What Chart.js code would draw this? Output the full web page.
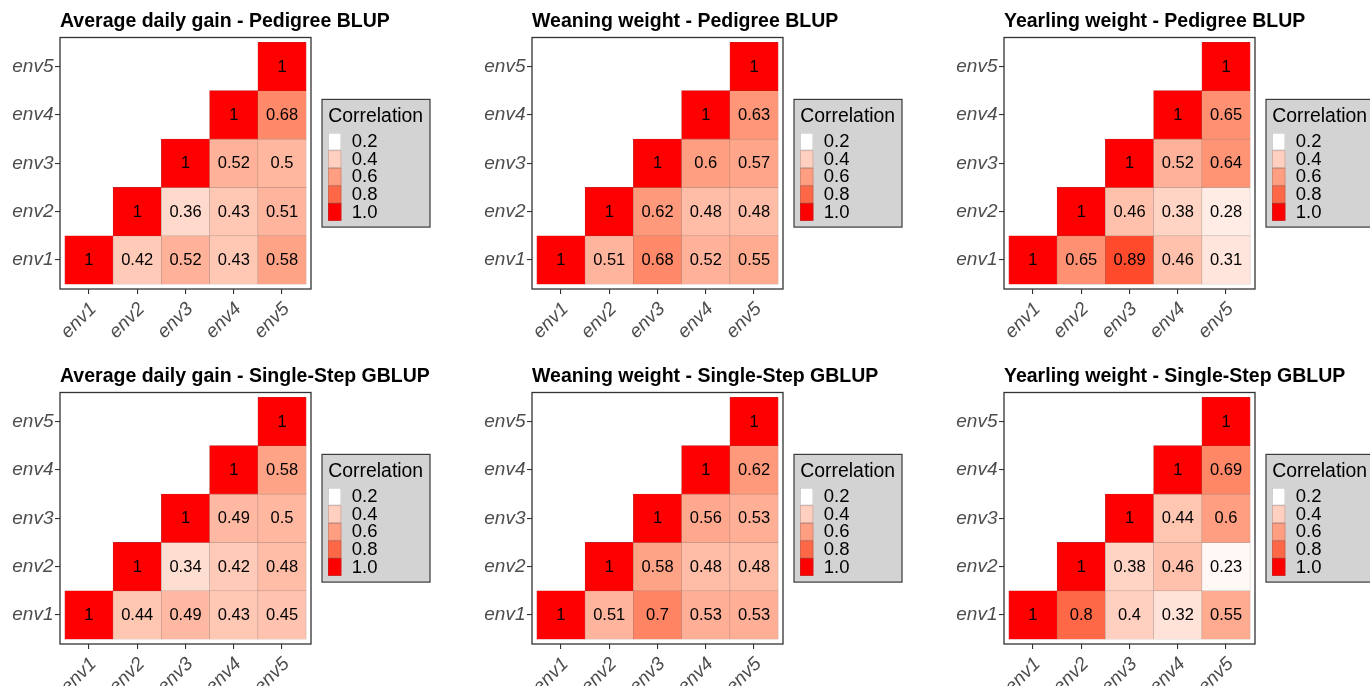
<!DOCTYPE html>
<html><head><meta charset="utf-8">
<script src="https://cdn.jsdelivr.net/npm/chart.js@4.4.1/dist/chart.umd.min.js"></script>
<style>
html,body{margin:0;padding:0;width:1370px;height:686px;overflow:hidden;background:#fff;}
canvas{position:absolute;}
</style></head><body>
<canvas id="p0" width="470" height="345" style="left:0px;top:0px"></canvas>
<canvas id="p1" width="470" height="345" style="left:472px;top:0px"></canvas>
<canvas id="p2" width="470" height="345" style="left:944px;top:0px"></canvas>
<canvas id="p3" width="470" height="345" style="left:0px;top:355px"></canvas>
<canvas id="p4" width="470" height="345" style="left:472px;top:355px"></canvas>
<canvas id="p5" width="470" height="345" style="left:944px;top:355px"></canvas>
<script>
// ---- data ----
const envLabels = ['env1', 'env2', 'env3', 'env4', 'env5'];
const panelTitles = [
  'Average daily gain - Pedigree BLUP',
  'Weaning weight - Pedigree BLUP',
  'Yearling weight - Pedigree BLUP',
  'Average daily gain - Single-Step GBLUP',
  'Weaning weight - Single-Step GBLUP',
  'Yearling weight - Single-Step GBLUP'
];
// each row: y = env1..env5, values for x = same env .. env5
const adgPedigree = [[1, 0.42, 0.52, 0.43, 0.58], [1, 0.36, 0.43, 0.51], [1, 0.52, 0.5], [1, 0.68], [1]];
const wwPedigree  = [[1, 0.51, 0.68, 0.52, 0.55], [1, 0.62, 0.48, 0.48], [1, 0.6, 0.57], [1, 0.63], [1]];
const ywPedigree  = [[1, 0.65, 0.89, 0.46, 0.31], [1, 0.46, 0.38, 0.28], [1, 0.52, 0.64], [1, 0.65], [1]];
const adgSSGBLUP  = [[1, 0.44, 0.49, 0.43, 0.45], [1, 0.34, 0.42, 0.48], [1, 0.49, 0.5], [1, 0.58], [1]];
const wwSSGBLUP   = [[1, 0.51, 0.7, 0.53, 0.53], [1, 0.58, 0.48, 0.48], [1, 0.56, 0.53], [1, 0.62], [1]];
const ywSSGBLUP   = [[1, 0.8, 0.4, 0.32, 0.55], [1, 0.38, 0.46, 0.23], [1, 0.44, 0.6], [1, 0.69], [1]];
const legendTitle = 'Correlation';
const legendBreaks = [0.2, 0.4, 0.6, 0.8, 1.0];
const legendLabels = ['0.2', '0.4', '0.6', '0.8', '1.0'];
const scaleLimits = [0.2, 1.0];

const panels = [adgPedigree, wwPedigree, ywPedigree, adgSSGBLUP, wwSSGBLUP, ywSSGBLUP];

// ---- colour scale: white -> red, interpolated in CIELAB ----
function s2l(c){c/=255;return c<=0.04045?c/12.92:Math.pow((c+0.055)/1.055,2.4);}
function l2s(c){c=c<=0.0031308?12.92*c:1.055*Math.pow(c,1/2.4)-0.055;return Math.max(0,Math.min(255,Math.round(c*255)));}
const Wn=[0.95047,1,1.08883];
function rgb2lab(r,g,b){
  const R=s2l(r),G=s2l(g),B=s2l(b);
  const X=(0.4124*R+0.3576*G+0.1805*B)/Wn[0],Y=(0.2126*R+0.7152*G+0.0722*B)/Wn[1],Z=(0.0193*R+0.1192*G+0.9505*B)/Wn[2];
  const f=t=>t>0.008856?Math.cbrt(t):7.787*t+16/116;
  const fx=f(X),fy=f(Y),fz=f(Z);
  return [116*fy-16,500*(fx-fy),200*(fy-fz)];
}
function lab2rgb(L,a,b){
  const fy=(L+16)/116,fx=fy+a/500,fz=fy-b/200;
  const fi=t=>t>0.206893?t*t*t:(t-16/116)/7.787;
  const X=fi(fx)*Wn[0],Y=fi(fy)*Wn[1],Z=fi(fz)*Wn[2];
  const R=3.2406*X-1.5372*Y-0.4986*Z,G=-0.9689*X+1.8758*Y+0.0415*Z,B=0.0557*X-0.2040*Y+1.0570*Z;
  return [l2s(R),l2s(G),l2s(B)];
}
const labLow=rgb2lab(255,255,255), labHigh=rgb2lab(255,0,0);
function fillRGB(v){
  let t=(v-scaleLimits[0])/(scaleLimits[1]-scaleLimits[0]);t=Math.max(0,Math.min(1,t));
  return lab2rgb(labLow[0]+(labHigh[0]-labLow[0])*t,labLow[1]+(labHigh[1]-labLow[1])*t,labLow[2]+(labHigh[2]-labLow[2])*t);
}
function fillColor(v){const c=fillRGB(v);return `rgb(${c[0]},${c[1]},${c[2]})`;}
function edgeColor(v){const c=fillRGB(v);const k=0.42,g=95;return `rgb(${Math.round(c[0]*(1-k)+g*k)},${Math.round(c[1]*(1-k)+g*k)},${Math.round(c[2]*(1-k)+g*k)})`;}

const FONT='"Liberation Sans", Arial, Helvetica, sans-serif';

// ---- plugins ----
const cellLabels = {
  id:'cellLabels',
  afterDatasetsDraw(chart){
    const ctx=chart.ctx;const meta=chart.getDatasetMeta(0);const ds=chart.data.datasets[0];
    ctx.save();ctx.font=`16.5px ${FONT}`;ctx.fillStyle='#000';ctx.textAlign='center';ctx.textBaseline='middle';
    meta.data.forEach((el,i)=>{const p=el.getCenterPoint();ctx.fillText(String(ds.data[i].v),p.x,p.y+0.5);});
    ctx.restore();
  }
};
const panelBox = {
  id:'panelBox',
  afterDraw(chart){
    const a=chart.chartArea,ctx=chart.ctx;
    ctx.save();ctx.strokeStyle='#333333';ctx.lineWidth=1.3;
    ctx.strokeRect(a.left,a.top,a.right-a.left,a.bottom-a.top);
    // panel title, left-aligned with the panel
    ctx.fillStyle='#000';ctx.font=`bold 19.5px ${FONT}`;ctx.textAlign='left';ctx.textBaseline='alphabetic';
    ctx.fillText(chart.options.panelTitle,a.left,a.top-10.8);
    ctx.restore();
  }
};
const colorLegend = {
  id:'colorLegend',
  afterDraw(chart){
    const a=chart.chartArea,ctx=chart.ctx;
    const bw=108,bh=127.7,bx=a.right+11,by=(a.top+a.bottom)/2-bh/2;
    ctx.save();
    ctx.fillStyle='#d3d3d3';ctx.fillRect(bx,by,bw,bh);
    ctx.strokeStyle='#3a3a3a';ctx.lineWidth=1.2;ctx.strokeRect(bx,by,bw,bh);
    ctx.fillStyle='#000';ctx.font=`19.4px ${FONT}`;ctx.textAlign='left';ctx.textBaseline='alphabetic';
    ctx.fillText(legendTitle,bx+6.3,by+22.4);
    const kx=bx+6,ky=by+33.4,kw=13.3,kh=17.6;
    legendBreaks.forEach((b,i)=>{
      ctx.fillStyle=fillColor(b);ctx.fillRect(kx,ky+i*kh,kw,kh);
      ctx.strokeStyle=edgeColor(b);ctx.lineWidth=0.7;ctx.strokeRect(kx+0.35,ky+i*kh+0.35,kw-0.7,kh-0.7);
      ctx.fillStyle='#000';ctx.font=`18.5px ${FONT}`;ctx.textBaseline='middle';
      ctx.fillText(legendLabels[i],bx+29.7,ky+i*kh+kh/2+0.5);
    });
    ctx.restore();
  }
};

function buildCells(rows){
  const pts=[];
  rows.forEach((vals,r)=>{vals.forEach((v,k)=>{const row=r+1,col=r+1+k;pts.push({x:col,y:[row-0.5,row+0.5],v:v});});});
  return pts;
}
function setTicks(scale){scale.ticks=envLabels.map((_,i)=>({value:i+1}));}

panels.forEach((rows,idx)=>{
  const cells=buildCells(rows);
  const axisFont={family:FONT,size:19,style:'italic'};
  new Chart(document.getElementById('p'+idx),{
    type:'bar',
    data:{datasets:[{
      data:cells,
      backgroundColor:cells.map(c=>fillColor(c.v)),
      borderColor:cells.map(c=>edgeColor(c.v)),
      borderWidth:0.6,borderSkipped:false,
      grouped:false,categoryPercentage:1,barPercentage:1
    }]},
    options:{
      panelTitle:panelTitles[idx],
      responsive:false,animation:false,devicePixelRatio:1,
      layout:{padding:{left:0,right:159,top:37.5,bottom:0}},
      scales:{
        x:{type:'linear',min:0.4,max:5.6,offset:false,
          afterBuildTicks:setTicks,
          afterFit(s){s.height=56;s.paddingLeft=0;s.paddingRight=0;},
          grid:{display:true,drawOnChartArea:false,drawTicks:true,tickLength:5,color:'#333333',lineWidth:1.1,offset:false},
          border:{display:false},
          ticks:{autoSkip:false,minRotation:45,maxRotation:45,padding:4,labelOffset:4.5,color:'#4d4d4d',font:axisFont,
            callback:(v)=>envLabels[v-1]}
        },
        y:{type:'linear',min:0.4,max:5.6,
          afterBuildTicks:setTicks,
          afterFit(s){s.width=60;s.paddingTop=0;s.paddingBottom=0;},
          grid:{display:true,drawOnChartArea:false,drawTicks:true,tickLength:5,color:'#333333',lineWidth:1.1},
          border:{display:false},
          ticks:{autoSkip:false,padding:1.5,color:'#4d4d4d',font:axisFont,callback:(v)=>envLabels[v-1]}
        }
      },
      plugins:{legend:{display:false},tooltip:{enabled:false},title:{display:false}}
    },
    plugins:[cellLabels,panelBox,colorLegend]
  });
});
</script>
</body></html>
